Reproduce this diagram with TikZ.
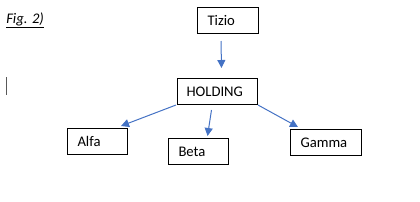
\documentclass[tikz,border=0pt]{standalone}
\usepackage{fontspec}
\setmainfont{Carlito}
\usepackage{xcolor}
\usepackage{tikz}
\usetikzlibrary{arrows.meta,calc}
\definecolor{arrow_blue}{RGB}{68, 114, 196}

\begin{document}
\begin{tikzpicture}[x=0.75pt, y=-0.75pt,
    every node/.style={font=\fontsize{11pt}{13pt}\selectfont},
    box/.style={draw=black, line width=0.75pt, rectangle, anchor=north west,
                minimum height=19.5pt, inner xsep=7.5pt, align=left},
    link/.style={draw=arrow_blue, line width=0.75pt,
                 -{Triangle[length=6pt, width=6pt]}}]
        \useasboundingbox (0,0) rectangle (420,201);
        \node[anchor=base west, inner sep=0pt] (fig) at (6,23) {\underline{\textit{Fig. 2)}}};
        \draw[gray!70!black, line width=0.75pt] (6.5,77) -- (6.5,95);
        \node[box, text width=30.75pt] (tizio) at (197,7) {Tizio};
        \node[box, text width=46.5pt, inner xsep=6.75pt] (holding) at (177,78) {HOLDING};
        \node[box, text width=30pt] (alfa) at (67,128) {Alfa};
        \node[box, text width=30pt] (beta) at (168,138) {Beta};
        \node[box, text width=38.25pt] (gamma) at (290,129) {Gamma};
        \draw[link] ($(tizio.south)+(-7,7)$) -- ($(holding.north)+(4,-10)$);
        \draw[link] ($(holding.south west)+(-1,0)$) -- ($(alfa.north east)+(-7,-2)$);
        \draw[link] ($(holding.south)+(-6,5)$) -- ($(beta.north)+(9,-2)$);
        \draw[link] (holding.south east) -- ($(gamma.north west)+(8,-2)$);
      \end{tikzpicture}
\end{document}
